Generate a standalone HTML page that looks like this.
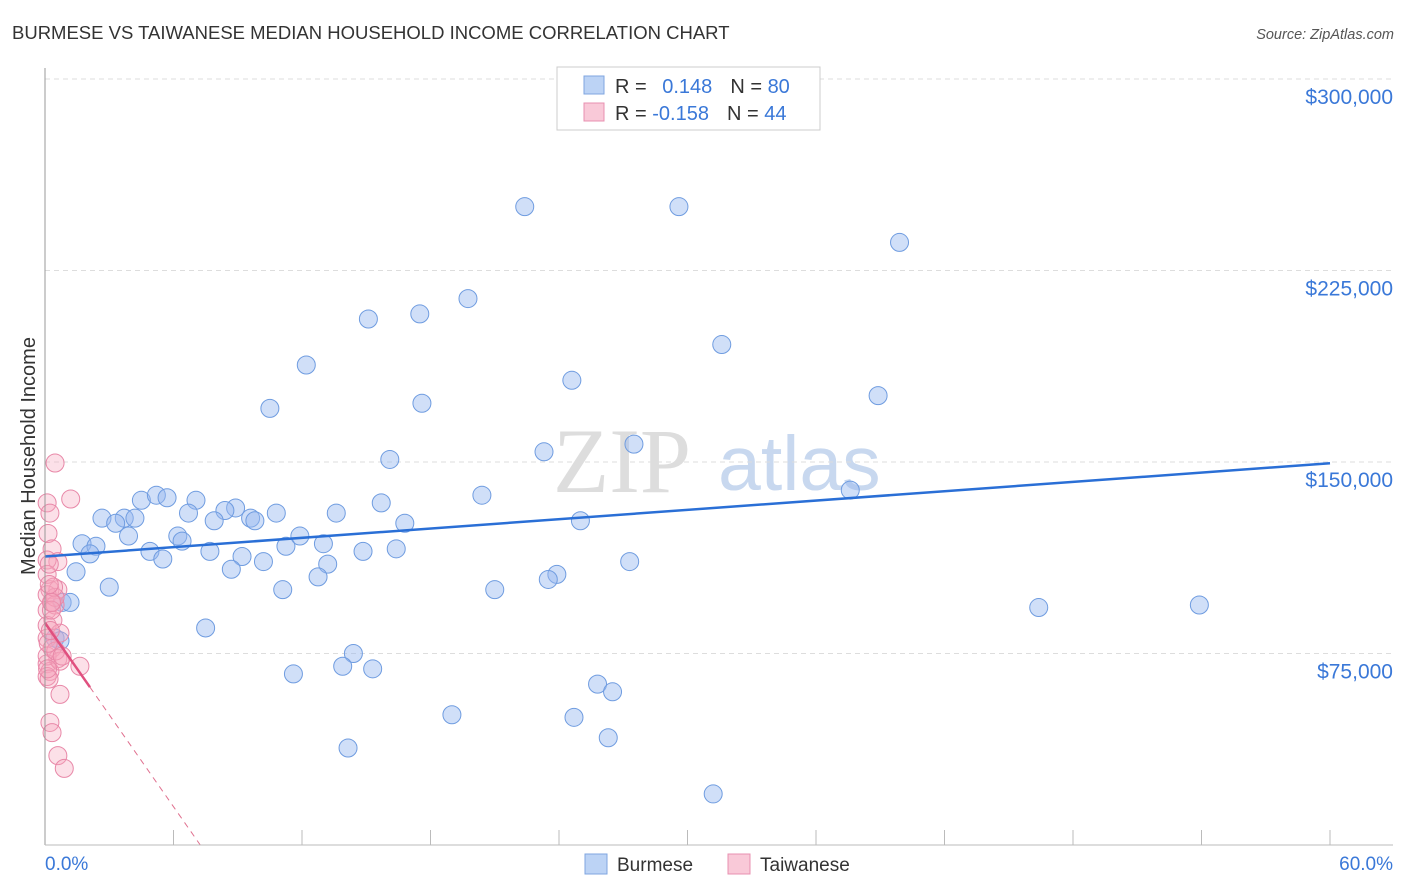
<!DOCTYPE html>
<html><head><meta charset="utf-8"><style>
body{margin:0;background:#fff;font-family:"Liberation Sans",sans-serif}
svg{display:block}
</style></head><body>
<svg id="chart" width="1406" height="892">
<text x="12" y="39" font-size="18.5" fill="#333">BURMESE VS TAIWANESE MEDIAN HOUSEHOLD INCOME CORRELATION CHART</text>
<text x="1394" y="39" font-size="14.5" fill="#555" font-style="italic" text-anchor="end">Source: ZipAtlas.com</text>
<text x="35" y="456" font-size="20" fill="#333" text-anchor="middle" transform="rotate(-90 35 456)">Median Household Income</text>
<text x="553" y="492" font-size="92" fill="#ddd" font-family="Liberation Serif">ZIP</text>
<text x="718" y="490" font-size="77" fill="#c8d8ef">atlas</text>
<g id="grid"></g><g id="pts"></g><g id="lines"></g>
<line x1="45" y1="68" x2="45" y2="845" stroke="#999"/>
<line x1="45" y1="845" x2="1393" y2="845" stroke="#bbb"/>
<text x="45" y="870" font-size="19" fill="#3a78d8">0.0%</text>
<text x="1393" y="870" font-size="19" fill="#3a78d8" text-anchor="end">60.0%</text>
<g>
<rect x="557" y="67" width="263" height="63" fill="#fff" stroke="#ccc"/>
<rect x="584" y="76" width="20" height="18" fill="#bcd3f5" stroke="#7fa6e0"/>
<rect x="584" y="103" width="20" height="18" fill="#f9c9d8" stroke="#e890b0"/>
<text x="615" y="93" font-size="20" fill="#333">R = <tspan fill="#3a78d8" dx="10">0.148</tspan><tspan dx="18">N = </tspan><tspan fill="#3a78d8">80</tspan></text>
<text x="615" y="120" font-size="20" fill="#333">R = <tspan fill="#3a78d8">-0.158</tspan><tspan dx="18">N = </tspan><tspan fill="#3a78d8">44</tspan></text>
</g>
<g><rect x="585" y="854" width="22" height="20" fill="#bcd3f5" stroke="#7fa6e0"/><text x="617" y="871" font-size="19" fill="#333">Burmese</text></g>
<g><rect x="728" y="854" width="22" height="20" fill="#f9c9d8" stroke="#e890b0"/><text x="760" y="871" font-size="19" fill="#333">Taiwanese</text></g>
</svg>
<script>
const yTicks=[75000,150000,225000,300000];
const yTickLabels=["$75,000","$150,000","$225,000","$300,000"];
const xTicks=[0,6,12,18,24,30,36,42,48,54,60];
const burmeseX=[22.4,29.6,39.9,19.75,17.5,15.1,31.6,12.2,24.6,38.9,17.6,10.5,27.5,23.3,16.1,37.6,20.4,4.5,5.2,5.7,7.05,15.7,8.9,8.4,6.7,10.8,13.6,2.66,3.7,4.2,3.3,7.9,9.6,9.8,16.8,25.0,6.2,11.9,3.9,1.73,2.38,6.4,11.25,13.0,2.1,4.9,7.7,9.2,5.5,14.85,16.4,10.2,13.2,27.3,1.45,8.7,12.75,23.9,23.5,3.0,11.1,21.0,46.4,53.9,0.8,1.17,7.5,0.47,14.4,13.9,15.3,11.6,25.8,26.5,19.0,24.7,26.3,14.15,31.2,0.7];
const burmeseY=[250,250,236,214,208,206,196,188,182,176,173,171,157,154,151,139,137,135,137,136,135,134,132,131,130,130,130,128,128,128,126,127,128,127,126,127,121,121,121,118,117,119,117,118,114,115,115,113,112,115,116,111,110,111,107,108,105,106,104,101,100,100,93,94,95,95,85,81,75,70,69,67,63,60,51,50,42,38,20,80];
const taiwanX=[0.47,1.2,0.1,0.23,0.14,0.33,0.6,0.1,0.23,0.6,0.1,0.33,0.1,0.47,0.1,0.7,0.1,0.33,0.6,0.1,1.63,0.23,0.1,0.7,0.23,0.33,0.6,0.9,0.1,0.37,0.1,0.7,0.19,0.47,0.2,0.3,0.5,0.15,0.25,0.4,0.12,0.8,0.3,0.2];
const taiwanY=[149.6,135.5,134,130,122,116,111,111.6,100,100,98,95,92,94,86,83,81,77,73,71,70,68,66,59,48,44,35,30,106,88,74,72,65,97,110,92,76,79,84,101,69,74,95,102];
const blueTrend=[113,149.5];
const pinkTrend=[87,-12,2.1,7.25];
const X=v=>45+v/60*1285, Y=v=>845-v/150000*383;
const NS="http://www.w3.org/2000/svg";
function mk(p,t,a){const e=document.createElementNS(NS,t);for(const k in a)e.setAttribute(k,a[k]);p.appendChild(e);return e;}
const grid=document.getElementById('grid'),pts=document.getElementById('pts'),lines=document.getElementById('lines');
yTicks.forEach((v,i)=>{
 const l=mk(grid,'line',{x1:45,x2:1393,y1:Y(v),y2:Y(v),stroke:'#ddd','stroke-dasharray':'5,4'});
 
 
 const t=mk(grid,'text',{x:1393,y:Y(v)+25,'font-size':21,fill:'#3a78d8','text-anchor':'end'});
 t.textContent=yTickLabels[i];
 
 
});
xTicks.forEach(v=>{
 const l=mk(grid,'line',{x1:X(v),x2:X(v),y1:830,y2:845,stroke:'#bbb'});
 
 
});
burmeseX.forEach((x,i)=>{
 const c=mk(pts,'circle',{cx:X(x),cy:Y(burmeseY[i]*1000),r:9,fill:'rgba(150,185,240,0.45)',stroke:'#6f9ce0','stroke-width':1});
 
 
});
taiwanX.forEach((x,i)=>{
 const c=mk(pts,'circle',{cx:X(x),cy:Y(taiwanY[i]*1000),r:9,fill:'rgba(245,165,190,0.35)',stroke:'#e888a8','stroke-width':1});
 
 
});
const bl=mk(lines,'line',{x1:X(0),y1:Y(blueTrend[0]*1000),x2:X(60),y2:Y(blueTrend[1]*1000),stroke:'#2a6fd6','stroke-width':2.5});


const py=x=>Y((pinkTrend[0]+pinkTrend[1]*x)*1000);
const pl=mk(lines,'line',{x1:X(0),y1:py(0),x2:X(pinkTrend[2]),y2:py(pinkTrend[2]),stroke:'#e0507f','stroke-width':2.5});


const pd=mk(lines,'line',{x1:X(pinkTrend[2]),y1:py(pinkTrend[2]),x2:X(pinkTrend[3]),y2:py(pinkTrend[3]),stroke:'#e0708f','stroke-width':1,'stroke-dasharray':'6,5'});


</script>
</body></html>
